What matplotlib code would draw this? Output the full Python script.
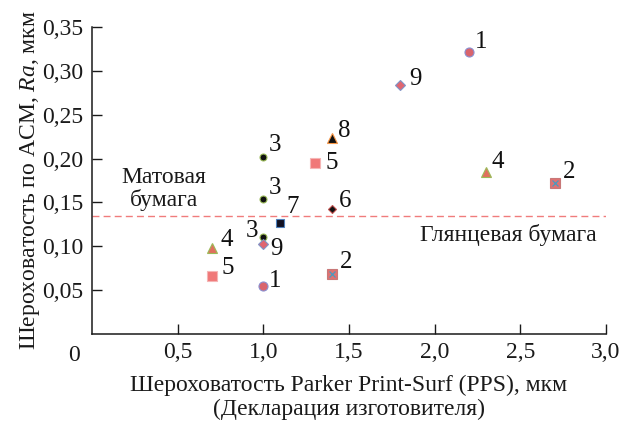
import matplotlib
matplotlib.use("Agg")
import matplotlib.pyplot as plt

plt.rcParams['font.family'] = ['Liberation Serif', 'DejaVu Serif']
plt.rcParams['mathtext.fontset'] = 'custom'
plt.rcParams['mathtext.rm'] = 'Liberation Serif'
plt.rcParams['mathtext.it'] = 'Liberation Serif:italic'

# data: paper number -> PPS (x) and AFM Ra (y)
pps_1 = [2.2, 1.0]
ra_1 = [0.322, 0.055]
pps_2 = [2.7, 1.4]
ra_2 = [0.172, 0.068]
pps_3 = [1.0, 1.0, 1.0]
ra_3 = [0.2015, 0.154, 0.111]
pps_4 = [2.3, 0.7]
ra_4 = [0.1845, 0.0975]
pps_5 = [1.3, 0.7]
ra_5 = [0.195, 0.066]
pps_6 = [1.4]
ra_6 = [0.142]
pps_7 = [1.1]
ra_7 = [0.127]
pps_8 = [1.4]
ra_8 = [0.2235]
pps_9 = [1.8, 1.0]
ra_9 = [0.284, 0.103]

border = 0.134  # matte / glossy boundary

x_ticks = [0.5, 1.0, 1.5, 2.0, 2.5, 3.0]
x_tick_labels = ['0,5', '1,0', '1,5', '2,0', '2,5', '3,0']
y_ticks = [0.05, 0.10, 0.15, 0.20, 0.25, 0.30, 0.35]
y_tick_labels = ['0,05', '0,10', '0,15', '0,20', '0,25', '0,30', '0,35']

series = [
    ('1', pps_1, ra_1, dict(marker='o', ms=6.5, mfc='#d9646c', mec='#8a8fd0')),
    ('2', pps_2, ra_2, dict(marker='s', ms=6.5, mfc='#e07272', mec='#c87878')),
    ('3', pps_3, ra_3, dict(marker='o', ms=5, mfc='#111111', mec='#9bbb59')),
    ('4', pps_4, ra_4, dict(marker='^', ms=7, mfc='#e0705e', mec='#9bbb59')),
    ('5', pps_5, ra_5, dict(marker='s', ms=7, mfc='#f07878', mec='#f5b5b5')),
    ('6', pps_6, ra_6, dict(marker='D', ms=3.8, mfc='#111111', mec='#c0504d')),
    ('7', pps_7, ra_7, dict(marker='s', ms=6, mfc='#111122', mec='#4f81bd')),
    ('8', pps_8, ra_8, dict(marker='^', ms=7, mfc='#111111', mec='#f79646')),
    ('9', pps_9, ra_9, dict(marker='D', ms=4.8, mfc='#e06670', mec='#7f95c8')),
]

# label offsets in pixels (dx, dy) for each point, same order as data
offsets = {
    '1': [(12, 10), (12, 5)],
    '2': [(15, 11), (14, 12)],
    '3': [(12, 12), (12, 11), (-11, 6)],
    '4': [(12, 10), (15, 8)],
    '5': [(17, 0), (16, 8)],
    '6': [(13, 8)],
    '7': [(12, 16)],
    '8': [(12, 7)],
    '9': [(15, 6), (13, -5)],
}

fig = plt.figure(figsize=(6.28, 4.23), dpi=100)
ax = fig.add_axes([0.1465, 0.2104, 0.8185, 0.7256])

for name, xs, ys, style in series:
    ax.plot(xs, ys, linestyle='none', mew=0.8, **style, zorder=3)
    if name == '2':
        ax.plot(xs, ys, linestyle='none', marker='x', ms=4, mew=0.9,
                color='#4a9ac0', zorder=4)
    for (x, y), (dx, dy) in zip(zip(xs, ys), offsets[name]):
        ax.annotate(name, (x, y), xytext=(dx * 0.72, dy * 0.72),
                    textcoords='offset points', ha='center', va='center',
                    fontsize=18, color='#111111')

ax.axhline(border, color='#f07c7c', linestyle=(0, (5, 3)), linewidth=1.0, zorder=1)

ax.text(0.42, 0.165, 'Матовая\nбумага', ha='center', va='center',
        fontsize=17, color='#1a1a1a', linespacing=1.05)
ax.text(2.948, 0.1125, 'Глянцевая бумага', ha='right', va='center',
        fontsize=17, color='#1a1a1a')

ax.set_xlim(0, 3.0)
ax.set_ylim(0, 0.35)
ax.set_xticks(x_ticks)
ax.set_xticklabels(x_tick_labels)
ax.set_yticks(y_ticks)
ax.set_yticklabels(y_tick_labels)
ax.tick_params(direction='in', length=7, width=1, labelsize=17, pad=6,
               colors='#1a1a1a')
ax.spines['top'].set_visible(False)
ax.spines['right'].set_visible(False)
for s in ('left', 'bottom'):
    ax.spines[s].set_linewidth(1.1)
    ax.spines[s].set_color('#1a1a1a')

# shared origin label
ax.annotate('0', (0, 0), xytext=(-18 * 0.72, -21 * 0.72), textcoords='offset points',
            ha='center', va='center', fontsize=17, color='#1a1a1a')

ax.set_xlabel('Шероховатость Parker Print-Surf (PPS), мкм\n(Декларация изготовителя)',
              fontsize=17, color='#1a1a1a', labelpad=8, linespacing=1.2)
ax.set_ylabel(r'Шероховатость по АСМ, $\mathit{Ra}$, мкм', fontsize=17,
              color='#1a1a1a', labelpad=0)

fig.savefig('out.png', dpi=100)
